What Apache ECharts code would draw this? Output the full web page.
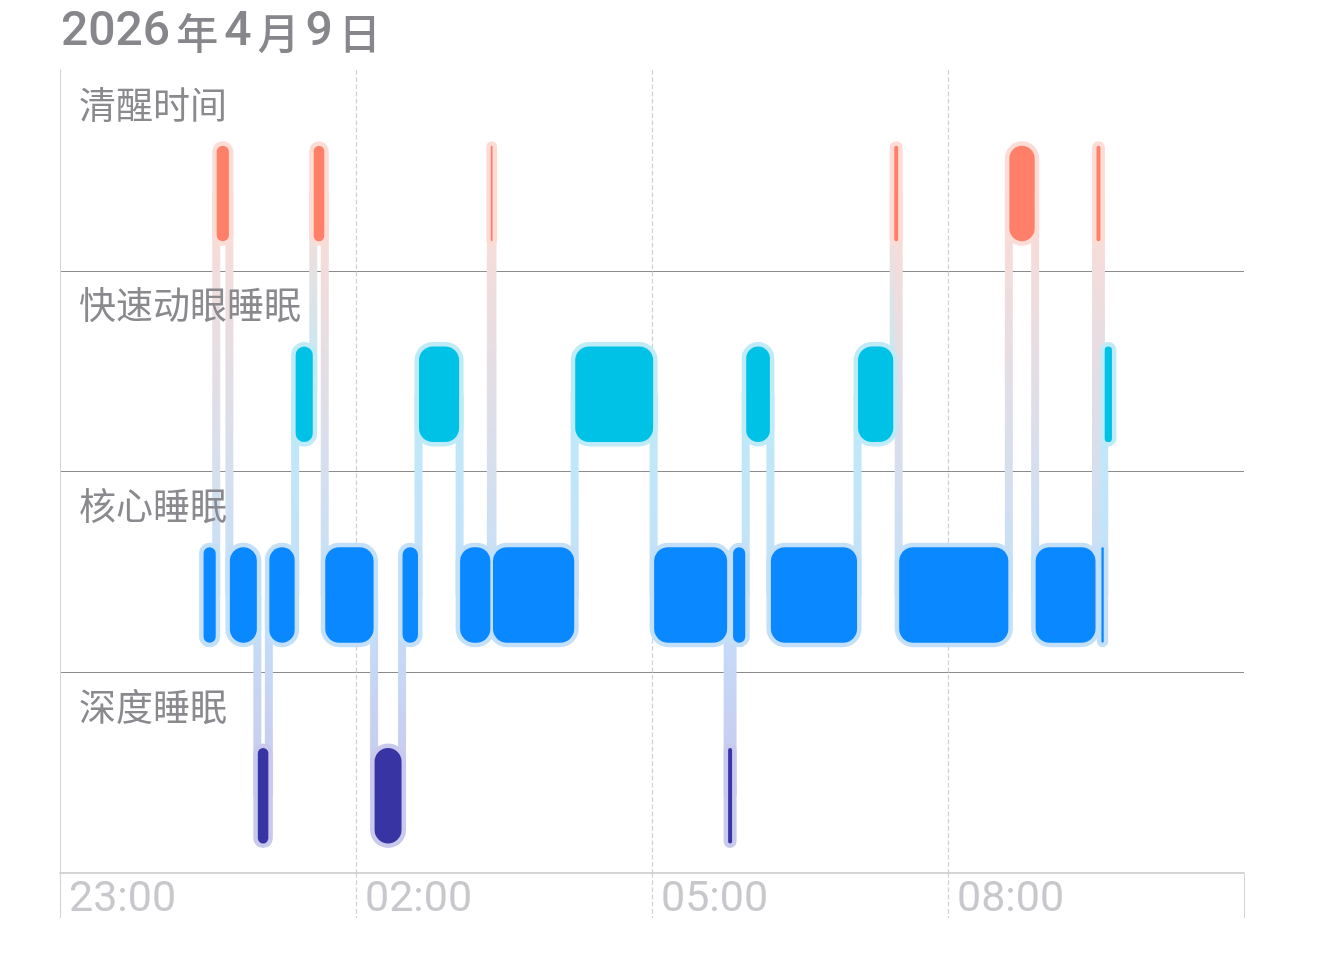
<!DOCTYPE html>
<html>
<head>
<meta charset="utf-8">
<title>睡眠阶段</title>
<script src="https://cdn.jsdelivr.net/npm/echarts@6.0.0/dist/echarts.min.js"></script>
<style>
  html, body { margin: 0; padding: 0; background: #fff; }
  #main { width: 1320px; height: 956px; }
</style>
</head>
<body>
<div id="main"></div>
<script type="text/javascript">
// stages, top row first
var stageNames = ['清醒时间', '快速动眼睡眠', '核心睡眠', '深度睡眠'];
var fillColors = ['#ff7f69', '#00c1e6', '#0a88ff', '#3834a4'];
var haloColors = ['#fddcd5', '#bfeaf8', '#c4e0f9', '#c9c9ee'];

// sleep segments
var segStart = ['00:27','00:35','00:43','01:00','01:07','01:23','01:34','01:41','02:11','02:28',
                '02:38','03:03','03:22','03:23','04:13','05:01','05:46','05:49','05:57','06:12',
                '07:05','07:27','07:30','08:37','08:53','09:30','09:33','09:35'];
var segEnd   = ['00:35','00:43','01:00','01:07','01:23','01:34','01:41','02:11','02:28','02:38',
                '03:03','03:22','03:23','04:13','05:01','05:46','05:49','05:57','06:12','07:05',
                '07:27','07:30','08:37','08:53','09:30','09:33','09:35','09:40'];
var segStage = ['核心睡眠','清醒时间','核心睡眠','深度睡眠','核心睡眠','快速动眼睡眠','清醒时间','核心睡眠','深度睡眠','核心睡眠',
                '快速动眼睡眠','核心睡眠','清醒时间','核心睡眠','快速动眼睡眠','核心睡眠','深度睡眠','核心睡眠','快速动眼睡眠','核心睡眠',
                '快速动眼睡眠','清醒时间','核心睡眠','清醒时间','核心睡眠','清醒时间','核心睡眠','快速动眼睡眠'];

// axis: minutes counted from 23:00
var axisStart = 23;
var axisMinutes = 720;
var tickStep = 180;

function toMin(t) {
    var p = t.split(':');
    var h = parseInt(p[0], 10), m = parseInt(p[1], 10);
    return ((h - axisStart + 24) % 24) * 60 + m;
}
function toClock(v) {
    var h = (axisStart + Math.floor(v / 60)) % 24;
    var m = v % 60;
    return (h < 10 ? '0' : '') + h + ':' + (m < 10 ? '0' : '') + m;
}

var segData = [];
for (var i = 0; i < segStart.length; i++) {
    segData.push([toMin(segStart[i]), toMin(segEnd[i]), stageNames.indexOf(segStage[i])]);
}

var HALO = 4.5;

function barBox(api, s, e, idx) {
    var p0 = api.coord([s, idx]);
    var p1 = api.coord([e, idx]);
    var bandH = api.size([0, 1])[1];
    var h = bandH * 0.476;
    var cy = p0[1] + bandH * 0.115;
    var x0 = p0[0] + 0.5, x1 = p1[0] - 0.5;
    var w = x1 - x0;
    if (w < 1.8) { x0 = (x0 + x1) / 2 - 0.9; w = 1.8; }
    return { x: x0, y: cy - h / 2, width: w, height: h, cy: cy };
}

function renderFill(params, api) {
    var b = barBox(api, api.value(0), api.value(1), api.value(2));
    var r = Math.min(b.width / 2, 14);
    return {
        type: 'rect',
        shape: { x: b.x, y: b.y, width: b.width, height: b.height, r: r },
        style: { fill: fillColors[api.value(2)] }
    };
}

function renderHalo(params, api) {
    var b = barBox(api, api.value(0), api.value(1), api.value(2));
    var r = Math.min(b.width / 2, 14) + HALO;
    return {
        type: 'rect',
        shape: { x: b.x - HALO, y: b.y - HALO, width: b.width + 2 * HALO, height: b.height + 2 * HALO, r: r },
        style: { fill: haloColors[api.value(2)] }
    };
}

function renderLink(params, api) {
    var i = params.dataIndex;
    if (i === 0) return;
    var prev = segData[i - 1];
    var cur = segData[i];
    var a = barBox(api, prev[0], prev[1], prev[2]);
    var b = barBox(api, cur[0], cur[1], cur[2]);
    var x = api.coord([cur[0], cur[2]])[0];
    var topIdx = prev[2] < cur[2] ? prev[2] : cur[2];
    var botIdx = prev[2] < cur[2] ? cur[2] : prev[2];
    var y0 = Math.min(a.cy, b.cy), y1 = Math.max(a.cy, b.cy);
    return {
        type: 'rect',
        shape: { x: x - 4, y: y0, width: 8, height: y1 - y0 },
        style: {
            fill: new echarts.graphic.LinearGradient(0, 0, 0, 1, [
                { offset: 0, color: haloColors[topIdx] },
                { offset: 1, color: haloColors[botIdx] }
            ])
        }
    };
}

function renderLabel(params, api) {
    var idx = params.dataIndex;
    var p = api.coord([0, idx]);
    var bandH = api.size([0, 1])[1];
    return {
        type: 'text',
        style: {
            x: p[0] + 19,
            y: p[1] - bandH / 2 + 16,
            text: stageNames[idx],
            fill: '#8a8a8e',
            font: '37px "Noto Sans CJK SC"',
            textAlign: 'left',
            textVerticalAlign: 'top'
        }
    };
}

var myChart = echarts.init(document.getElementById('main'));
var option = {
    animation: false,
    title: {
        text: '{n|2026}{c|年}{n|4}{c|月}{n|9}{c|日}',
        left: 61,
        top: 9,
        padding: 0,
        textStyle: {
            rich: {
                n: { fontSize: 48, fontWeight: 500, color: '#87878b', fontFamily: 'Roboto' },
                c: { fontSize: 42, fontWeight: 500, color: '#87878b', fontFamily: '"Noto Sans CJK SC"', padding: [0, 6, 0, 6] }
            }
        }
    },
    grid: { left: 60, right: 76, top: 70, bottom: 83 },
    xAxis: [{
        type: 'value',
        min: 0,
        max: axisMinutes,
        interval: tickStep,
        axisLine: { show: true, lineStyle: { color: '#c6c6c8', width: 1.5 } },
        axisTick: { show: true, length: 45, lineStyle: { color: '#cfcfd1', type: 'dashed', width: 1.2 } },
        splitLine: { show: true, showMinLine: false, showMaxLine: false, lineStyle: { color: '#cfcfd1', type: 'dashed', width: 1.2 } },
        axisLabel: {
            show: true,
            margin: 6,
            align: 'left',
            padding: [0, 0, 0, 9],
            fontSize: 43,
            color: '#c7c7cc',
            fontFamily: 'Roboto',
            showMaxLabel: false,
            formatter: function (v) { return v >= axisMinutes ? '' : toClock(v); }
        }
    }, {
        type: 'value',
        min: 0,
        max: axisMinutes,
        interval: axisMinutes,
        position: 'bottom',
        axisLine: { show: false },
        axisTick: { show: true, length: 45, lineStyle: { color: '#d4d4d6', width: 1 } },
        splitLine: { show: false },
        axisLabel: { show: false }
    }],
    yAxis: [{
        type: 'category',
        data: stageNames,
        inverse: true,
        axisLine: { show: true, lineStyle: { color: '#d4d4d6', width: 1 } },
        axisTick: { show: false },
        axisLabel: { show: false },
        splitLine: { show: true, showMinLine: false, showMaxLine: false, lineStyle: { color: '#8c8c8e', width: 1.2 } }
    }, {
        type: 'category',
        data: stageNames,
        inverse: true,
        position: 'right',
        axisLine: { show: true, lineStyle: { color: '#d4d4d6', width: 1 } },
        axisTick: { show: false },
        axisLabel: { show: false },
        splitLine: { show: false }
    }],
    series: [
        { type: 'custom', name: 'link', z: 1, renderItem: renderLink, encode: { x: [0, 1], y: 2 }, data: segData, silent: true },
        { type: 'custom', name: 'halo', z: 2, renderItem: renderHalo, encode: { x: [0, 1], y: 2 }, data: segData, silent: true },
        { type: 'custom', name: 'fill', z: 3, renderItem: renderFill, encode: { x: [0, 1], y: 2 }, data: segData },
        { type: 'custom', name: 'label', z: 4, renderItem: renderLabel, data: stageNames.map(function (n, k) { return [0, k]; }), silent: true }
    ]
};
myChart.setOption(option);
</script>
</body>
</html>
